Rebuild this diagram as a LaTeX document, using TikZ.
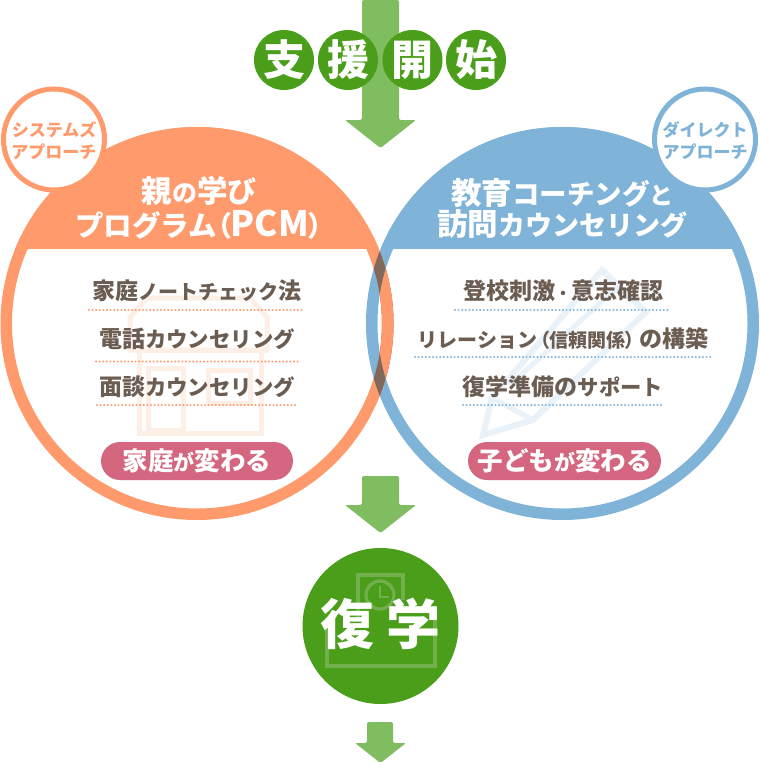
\documentclass[tikz,border=0pt]{standalone}
\usepackage{fontspec}
\newfontfamily\jp{Noto Sans CJK JP}
\newfontfamily\jpp{Noto Sans CJK JP}[RawFeature=+palt]
\newcommand\fs[2]{{\fontsize{#1}{#1}\selectfont #2}}
\definecolor{orangeC}{HTML}{FF9A6C}
\definecolor{blueC}{HTML}{7FB3D8}
\definecolor{darkC}{HTML}{80695A}
\definecolor{pinkC}{HTML}{D4677F}
\definecolor{greenC}{HTML}{4A9E1A}
\definecolor{arrowC}{HTML}{80BC60}
\definecolor{textC}{HTML}{6B5D52}
\definecolor{houseC}{HTML}{FDEEE6}
\definecolor{pencilC}{HTML}{E9F2F9}
\definecolor{clockC}{HTML}{72B04E}
\tikzset{
  x=1pt,y=-1pt,
  every node/.style={inner sep=0pt,outer sep=0pt,font=\jp\bfseries},
  bigarrow/.style={fill=arrowC,rounded corners=2},
  ring/.style={line width=11.5},
  row/.style={text=textC,font=\jp\bfseries\fontsize{23}{25}\selectfont},
  dotsO/.style={orangeC,line width=2.2,line cap=round,dash pattern=on 0pt off 3.6pt},
  dotsB/.style={blueC,line width=2.2,line cap=round,dash pattern=on 0pt off 3.6pt},
  pill/.style={fill=pinkC,rounded corners=19},
  pilltext/.style={text=white,font=\jp\bfseries\fontsize{25.5}{27}\selectfont},
  headtext/.style={text=white,align=center,font=\jp\bfseries\fontsize{30.5}{32}\selectfont},
  ball/.style={circle,fill=greenC,minimum size=60,text=white,font=\jp\bfseries\fontsize{42}{44}\selectfont},
  smalltext/.style={align=center,font=\jp\bfseries\fontsize{17}{22}\selectfont},
  housel/.style={draw=houseC,line width=5,line join=miter},
  pencill/.style={draw=pencilC,line width=6,line join=miter},
  clockl/.style={draw=clockC,line width=3.2},
}
\begin{document}
\begin{tikzpicture}
\useasboundingbox (0,0) rectangle (760,763);
\fill[white] (0,0) rectangle (760,763);
% top arrow
\path[bigarrow] (362,0) -- (399,0) -- (399,120) -- (416,120) -- (380.5,148) -- (345,120) -- (362,120) -- cycle;
% circles white interiors
\fill[white] (197,323.5) circle (196);
\fill[white] (562.5,323.5) circle (196);
% house watermark
\draw[housel] (130,350) -- (130,317) -- (147,298) -- (250,298) -- (267,317) -- (267,350) -- cycle;
\draw[housel] (139,350) rectangle (261,433);
\draw[housel] (148,368) rectangle (183,430);
\draw[housel] (208,370) rectangle (250,403);
% pencil watermark
\draw[pencill] (483,435) -- (492,398) -- (602,270) -- (646,312) -- (533,420) -- cycle;
\draw[pencilC,line width=5] (510,385) -- (620,285);
\draw[pencilC,line width=5] (492,398) -- (533,420);
% headers
\begin{scope}
\clip (197,323.5) circle (196.5);
\fill[orangeC] (0,120) rectangle (400,249);
\end{scope}
\begin{scope}
\clip (562.5,323.5) circle (196.5);
\fill[blueC] (360,120) rectangle (760,249);
\end{scope}
% rings
\draw[ring,blueC] (562.5,323.5) circle (190.75);
\draw[ring,orangeC] (197,323.5) circle (190.75);
\begin{scope}
\clip (562.5,323.5) circle (196.5);
\draw[ring,darkC] (197,323.5) circle (190.75);
\clip (562.5,323.5) circle (185);
\draw[ring,orangeC] (197,323.5) circle (190.75);
\end{scope}
% small circles
\node[circle,draw=orangeC,line width=5,fill=white,minimum size=101] (sysC) at (54,139.5) {};
\node[circle,draw=blueC,line width=5,fill=white,minimum size=101] (dirC) at (705,139.5) {};
\node[smalltext,text=orangeC] (sysT) at (54,141) {システムズ\\アプローチ};
\node[smalltext,text=blueC] (dirT) at (705,141) {ダイレクト\\アプローチ};
% header text
\node[headtext] (h1a) at (199,191) {親\fs{25}{の}学\fs{29}{び}};
\node[headtext] (h1b) at (199,225) {\fs{28.5}{プログラム}{\jpp\bfseries\fs{28}{（}}\fs{35}{PCM}{\jpp\bfseries\fs{28}{）}}};
\node[headtext] (h2a) at (562.5,193) {教育\fs{27.5}{コーチング}\fs{24}{と}};
\node[headtext] (h2b) at (562,224) {訪問\fs{27}{カウンセリング}};
% rows left
\node[row] (l1) at (197,291) {家庭\fs{20}{ノートチェック}法};
\draw[dotsO] (89,310) -- (305,310);
\node[row] (l2) at (197,339) {電話\fs{21.4}{カウンセリング}};
\draw[dotsO] (96,361.5) -- (298,361.5);
\node[row] (l3) at (197,387) {面談\fs{21.4}{カウンセリング}};
\draw[dotsO] (97,405) -- (297,405);
% rows right
\node[row] (r1) at (563,291) {登校刺激\fs{16}{・}意志確認};
\draw[dotsB] (455,310) -- (671,310);
\node[row] (r2) at (563,339) {\fs{20}{リレーション}\kern3pt{\jpp\bfseries\fs{19}{（}}\fs{19}{信頼関係}{\jpp\bfseries\fs{19}{）}}\kern4pt の構築};
\draw[dotsB] (415,357) -- (711,357);
\node[row] (r3) at (563,387) {復学準備の\fs{21.3}{サポート}};
\draw[dotsB] (463,405) -- (663,405);
% pills
\path[pill] (101,442) rectangle (293,480);
\path[pill] (468,442) rectangle (661,480);
\node[pilltext] (p1) at (197,461) {家庭\fs{21}{が}変わる};
\node[pilltext] (p2) at (564.5,461) {子ども\fs{21}{が}変わる};
% middle arrow
\path[bigarrow] (362,476) -- (399,476) -- (399,505) -- (416,505) -- (380.5,533) -- (345,505) -- (362,505) -- cycle;
% bottom arrow
\path[bigarrow] (367,722) -- (393,722) -- (393,743) -- (406,743) -- (380.5,763) -- (355,743) -- (367,743) -- cycle;
% top balls
\node[ball] (b1) at (284,60) {支};
\node[ball] (b2) at (348,60) {援};
\node[ball] (b3) at (412.5,60) {開};
\node[ball] (b4) at (476,60) {始};
% return circle
\node[circle,fill=greenC,minimum size=156] (ret) at (380.5,626) {};
\draw[clockl] (358,618) -- (358,575) -- (403,575) -- (403,600);
\draw[clockl] (327,618) -- (327,666) -- (435,666) -- (435,618);
\draw[clockl] (380,595) circle (14);
\draw[clockl,line width=1.8] (380,586) -- (380,597) -- (389,597);
\node[text=white,font=\jp\bfseries\fontsize{54}{56}\selectfont] (t1) at (347,624) {復};
\node[text=white,font=\jp\bfseries\fontsize{54}{56}\selectfont] (t2) at (413,624) {学};
\end{tikzpicture}
\end{document}
